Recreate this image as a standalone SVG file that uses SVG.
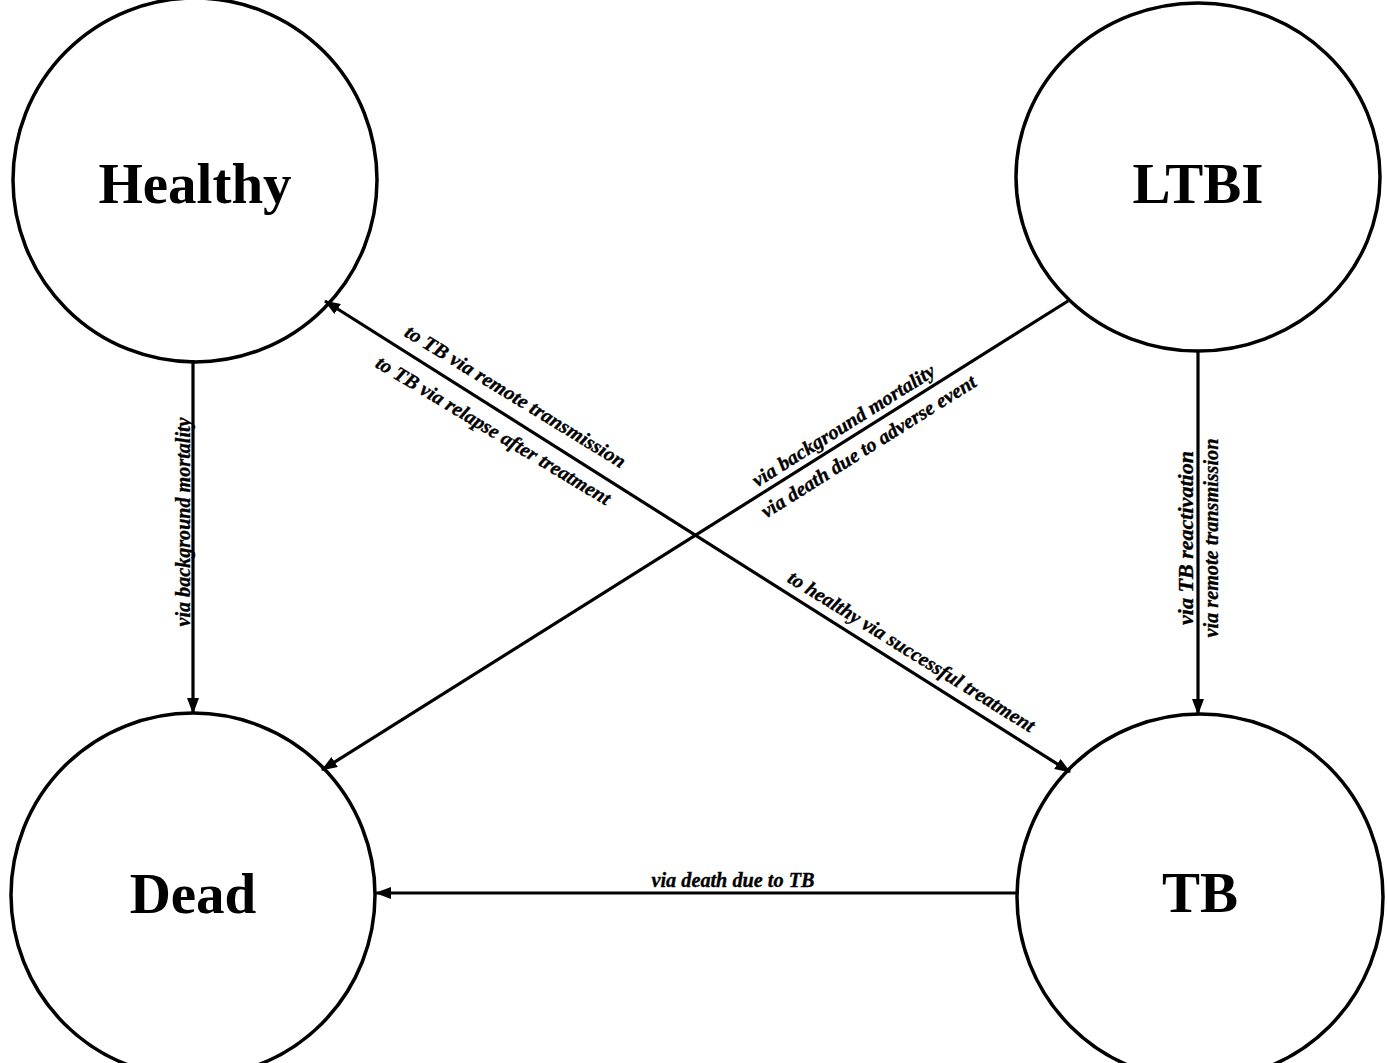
<svg xmlns="http://www.w3.org/2000/svg" width="1387" height="1063" viewBox="0 0 1387 1063">
<style>
.node{fill:none;stroke:#000;stroke-width:3.5}
.nlabel{font-family:"Liberation Serif","Times New Roman",serif;font-weight:bold;font-size:57px;fill:#000;text-anchor:middle}
.edge{stroke:#000;stroke-width:3.2;fill:none}
.elabel{font-family:"Liberation Serif","Times New Roman",serif;font-weight:bold;font-style:italic;font-size:20px;fill:#000;stroke:#000;stroke-width:0.35;text-anchor:middle}
</style>
<defs>
<marker id="arr" markerUnits="userSpaceOnUse" markerWidth="16" markerHeight="12" refX="15" refY="6" orient="auto-start-reverse">
<path d="M0,0 L16,6 L0,12 Z" fill="#000"/>
</marker>
</defs>
<rect width="1387" height="1063" fill="#fff"/>
<g id="connectors">
<line class="edge" x1="193" y1="360" x2="193" y2="713" marker-end="url(#arr)"/>
<line class="edge" x1="1198" y1="350" x2="1198" y2="714" marker-end="url(#arr)"/>
<line class="edge" x1="1017" y1="893" x2="376" y2="893" marker-end="url(#arr)"/>
<line class="edge" x1="1068" y1="301" x2="322" y2="770" marker-end="url(#arr)"/>
<line class="edge" x1="325" y1="301" x2="1070" y2="772" marker-start="url(#arr)" marker-end="url(#arr)"/>
<text class="elabel" transform="translate(190,522) rotate(-90)" textLength="209" lengthAdjust="spacingAndGlyphs">via background mortality</text>
<text class="elabel" transform="translate(1193,538) rotate(-90)" textLength="174" lengthAdjust="spacingAndGlyphs">via TB reactivation</text>
<text class="elabel" transform="translate(1218,538) rotate(-90)" textLength="199" lengthAdjust="spacingAndGlyphs">via remote transmission</text>
<text class="elabel" x="733" y="887" textLength="163" lengthAdjust="spacingAndGlyphs">via death due to TB</text>
<text class="elabel" transform="translate(512,402) rotate(31.5)" textLength="255" lengthAdjust="spacingAndGlyphs">to TB via remote transmission</text>
<text class="elabel" transform="translate(490,436) rotate(31)" textLength="270" lengthAdjust="spacingAndGlyphs">to TB via relapse after treatment</text>
<text class="elabel" transform="translate(908,657) rotate(31.9)" textLength="287" lengthAdjust="spacingAndGlyphs">to healthy via successful treatment</text>
<text class="elabel" transform="translate(847,431) rotate(-32.2)" textLength="212" lengthAdjust="spacingAndGlyphs">via background mortality</text>
<text class="elabel" transform="translate(872,452) rotate(-32.2)" textLength="250" lengthAdjust="spacingAndGlyphs">via death due to adverse event</text>
</g>
<g id="node-healthy">
<circle class="node" cx="195" cy="180" r="182"/>
<text class="nlabel" x="195" y="203">Healthy</text>
</g>
<g id="node-ltbi">
<ellipse class="node" cx="1198" cy="177" rx="182" ry="174"/>
<text class="nlabel" x="1198" y="203">LTBI</text>
</g>
<g id="node-dead">
<circle class="node" cx="193" cy="895" r="182"/>
<text class="nlabel" x="193" y="913">Dead</text>
</g>
<g id="node-tb">
<circle class="node" cx="1200" cy="897" r="183"/>
<text class="nlabel" x="1200" y="912">TB</text>
</g>
</svg>
